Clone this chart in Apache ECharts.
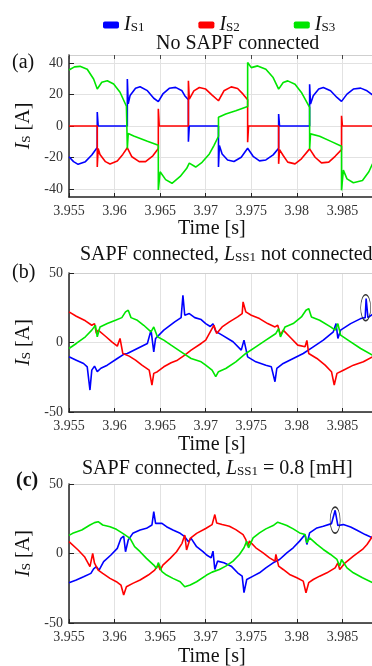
<!DOCTYPE html>
<html>
<head>
<meta charset="utf-8">
<title>Source currents</title>
<script src="https://cdn.jsdelivr.net/npm/echarts/dist/echarts.min.js"></script>
<style>
html, body { margin: 0; padding: 0; background: #fff; }
#main { width: 372px; height: 666px; }
</style>
</head>
<body>
<div id="main"></div>
<script>
// x axis ticks (shared) and y ticks of each panel
var timeTicks = [3.955, 3.96, 3.965, 3.97, 3.975, 3.98, 3.985, 3.99];
var ticksA = [-40, -20, 0, 20, 40];
var ticksBC = [-50, 0, 50];
var phaseNames = ['IS1', 'IS2', 'IS3'];
var phaseColors = ['#0000ff', '#ff0000', '#00e600'];

// (a) No SAPF connected  [time s, current A]
var a_is1 = [[3.9550,-19.5],[3.9555,-22.6],[3.9560,-24.3],[3.9568,-22.6],[3.9575,-18.4],[3.9581,-13.6],[3.9581,8.8],[3.9582,0],[3.9614,0],[3.9614,29.8],[3.9615,14],[3.9617,19.3],[3.9623,23.9],[3.9628,24.9],[3.9636,22.4],[3.9643,17.6],[3.9648,15.5],[3.9653,20.3],[3.9660,23.9],[3.9667,24.5],[3.9674,22.3],[3.9677,19.2],[3.9681,16.6],[3.9681,-10],[3.9682,0],[3.9714,0],[3.9714,-26],[3.9715,-12.4],[3.9718,-17.7],[3.9724,-21.5],[3.9731,-22.5],[3.9739,-19.8],[3.9746,-14.1],[3.9752,-19.2],[3.9759,-22.1],[3.9766,-21.5],[3.9774,-18.3],[3.9780,-14.1],[3.9780,7.6],[3.9781,0],[3.9814,0],[3.9814,26.5],[3.9815,13.9],[3.9818,19.2],[3.9824,23.4],[3.9829,24.4],[3.9837,22.3],[3.9844,18.1],[3.9849,15.6],[3.9855,20.2],[3.9862,23.4],[3.9870,24],[3.9877,22.3],[3.9886,18.5]];
var a_is2 = [[3.9550,0],[3.9581,0],[3.9581,-26],[3.9582,-14.3],[3.9584,-18],[3.9590,-22.6],[3.9595,-24.1],[3.9603,-22.2],[3.9609,-18],[3.9614,-13.8],[3.9619,-19.5],[3.9627,-22.6],[3.9634,-22.6],[3.9642,-18.9],[3.9648,-14.3],[3.9648,10.9],[3.9649,0],[3.9681,0],[3.9681,28.7],[3.9682,17],[3.9687,22.3],[3.9693,24.4],[3.9700,23.4],[3.9707,19.6],[3.9714,16],[3.9720,22.3],[3.9728,24.8],[3.9735,23.8],[3.9741,20.2],[3.9746,16.6],[3.9746,-10.3],[3.9747,0],[3.9780,0],[3.9780,-24],[3.9781,-15],[3.9785,-18.7],[3.9790,-22.9],[3.9798,-24],[3.9805,-20.8],[3.9814,-14.5],[3.9820,-19.8],[3.9827,-23.4],[3.9835,-22.9],[3.9842,-19.2],[3.9849,-15],[3.9849,6.5],[3.9850,0],[3.9886,0]];
var a_is3 = [[3.9550,35.5],[3.9556,37.5],[3.9562,37.8],[3.9570,36],[3.9577,29.8],[3.9581,23.5],[3.9586,27.7],[3.9592,28.7],[3.9599,26.6],[3.9606,21.4],[3.9613,12.5],[3.9614,-14.3],[3.9615,-4.8],[3.9621,-6.3],[3.9636,-9.6],[3.9648,-12.2],[3.9648,-40.5],[3.9650,-29],[3.9656,-34],[3.9663,-36.3],[3.9672,-32],[3.9679,-27],[3.9682,-23.5],[3.9689,-26],[3.9696,-23],[3.9704,-17.7],[3.9709,-12.4],[3.9714,-6.5],[3.9714,5.5],[3.9722,7.6],[3.9733,9.7],[3.9746,12.4],[3.9746,40.2],[3.9750,37],[3.9757,38.1],[3.9766,36],[3.9774,30.7],[3.9780,23.4],[3.9785,27.6],[3.9790,28.6],[3.9798,26.5],[3.9805,21.3],[3.9814,11.8],[3.9814,-14.5],[3.9815,-5],[3.9825,-6.5],[3.9838,-9.9],[3.9849,-12.8],[3.9849,-40.8],[3.9851,-28],[3.9855,-33.5],[3.9862,-36],[3.9872,-34.5],[3.9879,-29],[3.9883,-24],[3.9886,-25]];

// (b) SAPF connected, LSS1 not connected
var b_is1 = [[3.9550,-10.3],[3.9558,-12.7],[3.9566,-15.1],[3.9570,-17.5],[3.9573,-34.2],[3.9575,-19.9],[3.9578,-17],[3.9581,-21],[3.9585,-18.5],[3.9592,-16.3],[3.9603,-11.5],[3.9610,-8.5],[3.9614,-7.9],[3.9625,-4.3],[3.9636,-0.7],[3.9640,8.9],[3.9643,-6.7],[3.9645,2.9],[3.9654,8.9],[3.9666,14.8],[3.9673,17.9],[3.9675,34],[3.9677,19.6],[3.9682,20.8],[3.9688,17.9],[3.9695,16.5],[3.9700,13.6],[3.9705,11.5],[3.9708,13.5],[3.9711,8],[3.9718,5.3],[3.9730,0.5],[3.9739,-5.5],[3.9742,1.7],[3.9746,-10.3],[3.9755,-13.9],[3.9766,-16.3],[3.9772,-17.5],[3.9776,-28.2],[3.9778,-18.7],[3.9785,-15.1],[3.9796,-11.5],[3.9807,-7.9],[3.9818,-3.1],[3.9829,1.7],[3.9840,7.7],[3.9843,13.6],[3.9845,2.9],[3.9848,8.9],[3.9859,13.6],[3.9870,17.2],[3.9875,17.9],[3.9876,31.6],[3.9878,17.9],[3.9883,20.3],[3.9886,19]];
var b_is2 = [[3.9550,22],[3.9558,18.9],[3.9568,15.6],[3.9575,12.4],[3.9578,13.6],[3.9580,6.5],[3.9582,8.9],[3.9590,4.5],[3.9597,0.5],[3.9603,-2.6],[3.9606,2.9],[3.9609,-7.9],[3.9616,-9.8],[3.9623,-12.7],[3.9630,-16.3],[3.9638,-19.9],[3.9641,-30.6],[3.9643,-22.2],[3.9647,-21],[3.9654,-17.5],[3.9662,-14.6],[3.9669,-12.7],[3.9677,-9.1],[3.9684,-5.5],[3.9695,-0.7],[3.9700,1.7],[3.9706,8.9],[3.9709,12.4],[3.9712,6.5],[3.9718,11.2],[3.9726,14.8],[3.9735,18.4],[3.9740,20.8],[3.9741,29.2],[3.9744,22],[3.9750,19.6],[3.9759,17.2],[3.9768,13.6],[3.9776,11.2],[3.9779,12.4],[3.9782,5.3],[3.9785,8.9],[3.9794,2.9],[3.9801,-1.9],[3.9809,-3.1],[3.9811,1.5],[3.9813,-7.9],[3.9822,-11.5],[3.9831,-16.3],[3.9838,-21],[3.9841,-30.6],[3.9844,-22.2],[3.9851,-19.9],[3.9862,-16.3],[3.9873,-13.9],[3.9883,-10.3],[3.9886,-9]];
var b_is3 = [[3.9550,-4.3],[3.9558,-0.7],[3.9568,4.1],[3.9575,8.9],[3.9579,12.4],[3.9581,4.1],[3.9584,11.2],[3.9592,13.6],[3.9601,16],[3.9608,17.9],[3.9612,22],[3.9615,23.2],[3.9618,17.9],[3.9625,16],[3.9632,12.4],[3.9640,7.7],[3.9643,11.2],[3.9647,4.1],[3.9654,1.7],[3.9662,-1.9],[3.9673,-6.7],[3.9684,-11.5],[3.9695,-13.9],[3.9700,-16.3],[3.9707,-19.9],[3.9711,-24.6],[3.9714,-21],[3.9722,-18.7],[3.9733,-13.9],[3.9744,-7.9],[3.9755,-3.1],[3.9766,1.7],[3.9777,6.5],[3.9780,10],[3.9782,4.1],[3.9787,11.2],[3.9796,13.6],[3.9805,18.4],[3.9810,23.2],[3.9813,24.4],[3.9816,18.4],[3.9825,16],[3.9837,11.2],[3.9842,8.9],[3.9845,13.6],[3.9848,5.3],[3.9859,0.5],[3.9870,-4.3],[3.9883,-9.1],[3.9886,-10]];

// (c) SAPF connected, LSS1 = 0.8 mH
var c_is1 = [[3.9550,-21],[3.9558,-19],[3.9566,-16.7],[3.9574,-14.3],[3.9577,-11],[3.9580,-9.5],[3.9583,-12],[3.9588,-5.9],[3.9596,-1.1],[3.9603,3.7],[3.9607,10.9],[3.9610,12.6],[3.9612,1.3],[3.9615,9.7],[3.9620,14.5],[3.9628,16.9],[3.9635,18.1],[3.9641,20.5],[3.9643,30.1],[3.9645,21.7],[3.9652,21.7],[3.9657,19.3],[3.9664,16.9],[3.9672,14.5],[3.9677,12.1],[3.9681,8.5],[3.9684,10.9],[3.9690,4.9],[3.9697,1.3],[3.9701,-1.1],[3.9706,-3.1],[3.9708,1.7],[3.9710,-11.5],[3.9713,-5.5],[3.9720,-6.7],[3.9728,-9.1],[3.9735,-13.9],[3.9740,-16.3],[3.9742,-28.2],[3.9745,-18.7],[3.9752,-16.3],[3.9759,-13.9],[3.9766,-10.3],[3.9774,-6.7],[3.9781,-4.3],[3.9789,0.5],[3.9796,4.1],[3.9803,8.9],[3.9809,13.6],[3.9811,6.5],[3.9814,14.8],[3.9822,18.4],[3.9829,19.6],[3.9838,21.5],[3.9842,31.1],[3.9845,20.1],[3.9851,20.8],[3.9859,19.1],[3.9866,16.7],[3.9875,13.6],[3.9883,11.2],[3.9886,10]];
var c_is2 = [[3.9550,8.5],[3.9552,7.3],[3.9560,2.5],[3.9567,-2.3],[3.9573,-9.5],[3.9576,0.1],[3.9578,-7],[3.9582,-11.9],[3.9587,-14.3],[3.9595,-17.9],[3.9602,-20.3],[3.9607,-22.7],[3.9610,-29.9],[3.9613,-23.9],[3.9620,-21.5],[3.9628,-19.1],[3.9637,-15.5],[3.9644,-11.9],[3.9648,-8.3],[3.9650,-11.9],[3.9653,-8.3],[3.9661,-3.5],[3.9668,1.3],[3.9674,7.3],[3.9677,13.3],[3.9679,2.5],[3.9683,10.9],[3.9690,14.5],[3.9700,18],[3.9707,20.8],[3.9710,28],[3.9712,22],[3.9718,20.8],[3.9726,19.6],[3.9733,17.2],[3.9741,13.6],[3.9744,10],[3.9746,5.3],[3.9748,8.9],[3.9755,4.1],[3.9763,0.5],[3.9770,-3.1],[3.9776,-5.5],[3.9777,-0.7],[3.9780,-9.1],[3.9785,-11.5],[3.9792,-15.1],[3.9800,-17.5],[3.9807,-19.9],[3.9810,-28.2],[3.9813,-21],[3.9818,-18.7],[3.9825,-16.3],[3.9833,-13.9],[3.9842,-10.3],[3.9845,-6.7],[3.9847,-11.5],[3.9853,-6.7],[3.9862,-1.9],[3.9872,2.9],[3.9877,6.5],[3.9883,12.4],[3.9886,13]];
var c_is3 = [[3.9550,13],[3.9554,14.5],[3.9564,16.9],[3.9573,20.5],[3.9578,22.2],[3.9582,22.9],[3.9587,20.5],[3.9595,19.3],[3.9602,17.4],[3.9609,14.5],[3.9617,10.9],[3.9622,4.9],[3.9628,1.3],[3.9635,-3.5],[3.9643,-8.3],[3.9646,-10.7],[3.9648,-6.6],[3.9652,-13.1],[3.9657,-15.5],[3.9664,-17.9],[3.9672,-20.3],[3.9677,-23.9],[3.9683,-22.7],[3.9690,-20.3],[3.9701,-15.5],[3.9707,-13.4],[3.9715,-11.5],[3.9722,-9.1],[3.9730,-5.5],[3.9737,-0.7],[3.9742,4.1],[3.9745,8.9],[3.9747,4.1],[3.9752,11.2],[3.9759,14.8],[3.9766,17.7],[3.9774,20.1],[3.9779,22.5],[3.9783,21.5],[3.9789,20.1],[3.9796,17.7],[3.9803,14.8],[3.9809,13.6],[3.9811,7.7],[3.9814,11.2],[3.9822,6.5],[3.9829,2.9],[3.9837,-0.7],[3.9844,-4.3],[3.9847,-9.1],[3.9849,-4.3],[3.9855,-10.3],[3.9862,-13.9],[3.9872,-17.5],[3.9883,-21],[3.9886,-21.5]];

// circled spikes in (b) and (c)
var b_mark = [3.98755, 25];
var c_mark = [3.9842, 24];

var serif = "Liberation Serif, Times New Roman, serif";
var gridColor = '#e2e2e2';
var richSub = {
    i: { fontFamily: serif, fontStyle: 'italic', fontSize: 20, color: '#111' },
    s: { fontFamily: serif, fontSize: 13, color: '#111', padding: [6, 0, 0, 0] }
};

var chart = echarts.init(document.getElementById('main'));

// the plot runs on to 3.99 s, past the right edge, so it is cut off as in the reference
var grids = [
    { left: 69, right: -16, top: 55, height: 142, outerBoundsMode: 'none' },
    { left: 69, right: -16, top: 273, height: 139, outerBoundsMode: 'none' },
    { left: 69, right: -16, top: 484, height: 139, outerBoundsMode: 'none' }
];

function bottomAxis(idx) {
    return {
        type: 'value', gridIndex: idx, position: 'bottom',
        min: timeTicks[0], max: timeTicks[timeTicks.length - 1], interval: 0.005,
        axisLine: { onZero: false, lineStyle: { color: '#222', width: 1.5 } },
        axisTick: { inside: true, length: 4, lineStyle: { color: '#222' } },
        axisLabel: {
            margin: 7, fontFamily: serif, fontSize: 14, color: '#333',
            formatter: function (v) { return String(+v.toFixed(3)); }
        },
        splitLine: { show: true, lineStyle: { color: gridColor } }
    };
}
function topAxis(idx, ticks) {
    return {
        type: 'value', gridIndex: idx, position: 'top',
        min: timeTicks[0], max: timeTicks[timeTicks.length - 1], interval: 0.005,
        axisLine: { show: true, onZero: false, lineStyle: { color: '#cfcfcf', width: 1 } },
        axisTick: { show: ticks, inside: true, length: 4, lineStyle: { color: '#444' } },
        axisLabel: { show: false },
        splitLine: { show: false }
    };
}
function leftAxis(idx, min, max, vals) {
    return {
        type: 'value', gridIndex: idx, min: min, max: max,
        name: '{i|I}{s|S} [A]',
        nameLocation: 'middle', nameRotate: 90, nameGap: 31,
        nameTextStyle: { fontFamily: serif, fontSize: 20, color: '#111', rich: richSub },
        axisLine: { show: true, onZero: false, lineStyle: { color: '#222', width: 1.5 } },
        axisTick: { inside: true, length: 5, customValues: vals, lineStyle: { color: '#222' } },
        axisLabel: { margin: 6, fontFamily: serif, fontSize: 14, color: '#333', customValues: vals },
        splitLine: { show: true, lineStyle: { color: gridColor } }
    };
}

function line(name, data, idx, color, mark) {
    var s = {
        name: name, type: 'line', data: data,
        xAxisIndex: idx * 2, yAxisIndex: idx,
        symbol: 'none', clip: true,
        lineStyle: { color: color, width: 1.6 },
        itemStyle: { color: color },
        z: 3
    };
    if (mark) {
        s.markPoint = {
            symbol: 'circle', symbolSize: [10, 26], silent: true,
            label: { show: false },
            itemStyle: { color: 'rgba(0,0,0,0)', borderColor: '#333', borderWidth: 1 },
            data: [{ coord: mark }]
        };
    }
    return s;
}

function text(str, left, top, extra) {
    var style = { fontFamily: serif, fontSize: 20, fontWeight: 'normal', color: '#111', lineHeight: 20, rich: richSub };
    for (var k in extra) style[k] = extra[k];
    return { text: str, left: left, top: top, padding: 0, textStyle: style };
}

var option = {
    animation: false,
    backgroundColor: '#fff',
    legend: {
        data: phaseNames, left: 98, top: 10,
        icon: 'roundRect', itemWidth: 16, itemHeight: 7, itemGap: 54,
        formatter: function (n) { return '{i|I}{s|' + n.slice(1) + '}'; },
        textStyle: { fontFamily: serif, fontSize: 20, color: '#111', rich: richSub }
    },
    title: [
        text('No SAPF connected', 156, 34),
        text('(a)', 12, 53),
        text('Time [s]', 178, 219),
        text('SAPF connected, {i|L}{s|SS1} not connected', 80, 245),
        text('(b)', 12, 263),
        text('Time [s]', 178, 435),
        text('SAPF connected, {i|L}{s|SS1} = 0.8 [mH]', 82, 459),
        text('(c)', 16, 471, { fontWeight: 'bold' }),
        text('Time [s]', 178, 647)
    ],
    grid: grids,
    xAxis: [
        bottomAxis(0), topAxis(0, true),
        bottomAxis(1), topAxis(1, false),
        bottomAxis(2), topAxis(2, false)
    ],
    yAxis: [
        leftAxis(0, -45, 45, ticksA),
        leftAxis(1, -50, 50, ticksBC),
        leftAxis(2, -50, 50, ticksBC)
    ],
    series: [
        line(phaseNames[0], a_is1, 0, phaseColors[0]),
        line(phaseNames[1], a_is2, 0, phaseColors[1]),
        line(phaseNames[2], a_is3, 0, phaseColors[2]),
        line(phaseNames[0], b_is1, 1, phaseColors[0], b_mark),
        line(phaseNames[1], b_is2, 1, phaseColors[1]),
        line(phaseNames[2], b_is3, 1, phaseColors[2]),
        line(phaseNames[0], c_is1, 2, phaseColors[0], c_mark),
        line(phaseNames[1], c_is2, 2, phaseColors[1]),
        line(phaseNames[2], c_is3, 2, phaseColors[2])
    ]
};
chart.setOption(option);
</script>
</body>
</html>
